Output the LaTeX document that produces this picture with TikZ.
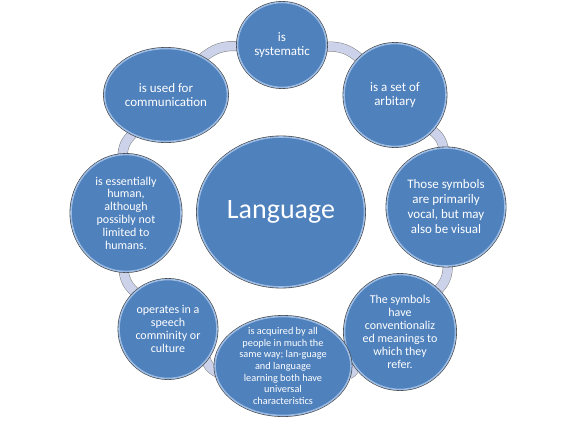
\documentclass[tikz,border=0pt]{standalone}
\usepackage{fontspec}
\setmainfont{Carlito}
\usetikzlibrary{shapes.geometric,backgrounds}
\definecolor{bubble}{RGB}{79,129,189}
\definecolor{rim}{RGB}{155,187,227}
\definecolor{band}{RGB}{204,210,234}

\begin{document}
\begin{tikzpicture}[x=1pt,y=1pt,
 bubble/.style={ellipse, fill=bubble, draw=rim, line width=1.6pt,
  preaction={draw=black!75, line width=2.8pt}, text=white, align=center, inner sep=0pt},
 link/.style={draw=black!50, line width=0.5pt, double=band, double distance=9pt,
  shorten <=-3pt, shorten >=-3pt}]
 \useasboundingbox (-281,-217) rectangle (286,212);

 %centre of the cycle
 \node[bubble, minimum width=167pt, minimum height=150pt, font=\fontsize{28}{30}\selectfont] (lang) at (0,0) {Language};

 %bubbles round the cycle, clockwise from the top
 \node[bubble, minimum width=89pt, minimum height=85pt, font=\fontsize{13}{14}\selectfont] (sys) at (1,167) {is\\systematic};
 \node[bubble, minimum width=102pt, minimum height=103pt, font=\fontsize{13}{14}\selectfont] (arb) at (114,117) {is a set of\\arbitary};
 \node[bubble, minimum width=118pt, minimum height=118pt, font=\fontsize{13}{15}\selectfont] (vis) at (165,5) {Those symbols\\are primarily\\vocal, but may\\also be visual};
 \node[bubble, minimum width=111pt, minimum height=115pt, font=\fontsize{12}{13}\selectfont] (conv) at (119,-120) {The symbols\\have\\conventionaliz\\ed meanings to\\which they\\refer.};
 \node[bubble, minimum width=136pt, minimum height=99pt, inner sep=-6pt, font=\fontsize{10.3}{11.7}\selectfont] (acq) at (2,-154) {is acquired by all\\people in much the\\same way; lan-guage\\and language\\learning both have\\universal\\characteristics};
 \node[bubble, minimum width=98pt, minimum height=99pt, font=\fontsize{12}{13}\selectfont] (ops) at (-113,-117) {operates in a\\speech\\comminity or\\culture};
 \node[bubble, minimum width=110pt, minimum height=117pt, font=\fontsize{12}{12.8}\selectfont] (hum) at (-155,-1) {is essentially\\human,\\although\\possibly not\\limited to\\humans.};
 \node[bubble, minimum width=123pt, minimum height=93pt, font=\fontsize{13}{14}\selectfont] (use) at (-115,117) {is used for\\communication};

 %ring behind the bubbles
 \begin{scope}[on background layer]
 \foreach \a/\b in {sys/arb, arb/vis, vis/conv, conv/acq, acq/ops, ops/hum, hum/use, use/sys}
  \draw[link] (\a) to[bend left=22] (\b);
 \end{scope}
\end{tikzpicture}
\end{document}
